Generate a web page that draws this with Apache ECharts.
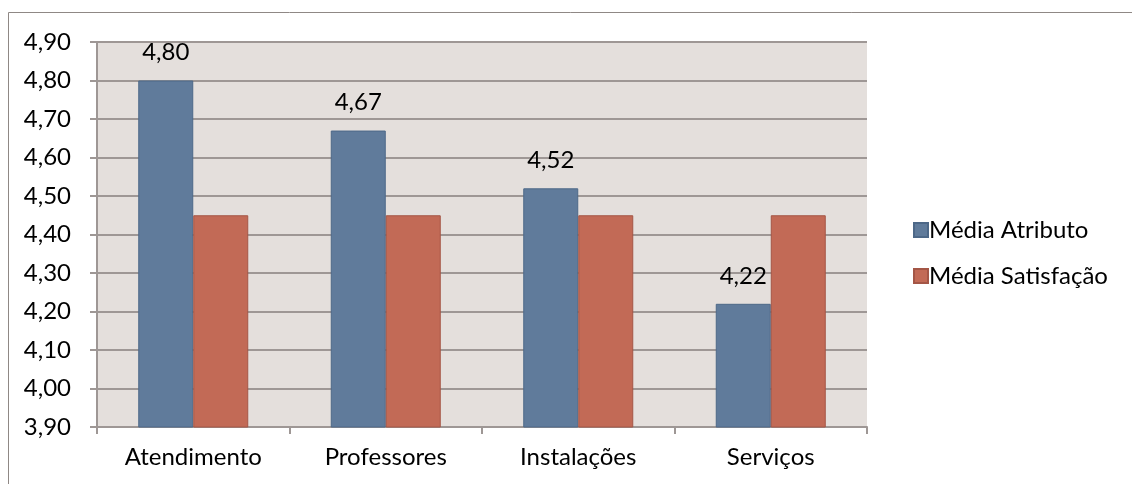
<!DOCTYPE html>
<html>
<head>
<meta charset="utf-8">
<script src="https://cdn.jsdelivr.net/npm/echarts@6/dist/echarts.min.js"></script>
<style>
html,body{margin:0;padding:0;background:#fff;}
#chart{width:1132px;height:484px;}
</style>
</head>
<body>
<div id="chart"></div>
<script>
var categories = ['Atendimento', 'Professores', 'Instalações', 'Serviços'];
var mediaAtributo = [4.80, 4.67, 4.52, 4.22];
var mediaSatisfacao = [4.45, 4.45, 4.45, 4.45];
var seriesNames = ['Média Atributo', 'Média Satisfação'];

function fmt(v){
    return Number(v).toFixed(2).replace('.', ',');
}

var myChart = echarts.init(document.getElementById('chart'));
var font = 'Lato, "Open Sans", sans-serif';
var option = {
    animation: false,
    textStyle: {fontFamily: font},
    graphic: [{
        type: 'rect',
        shape: {x: 8.5, y: 12.5, width: 1140, height: 490},
        style: {fill: 'none', stroke: '#8f8885', lineWidth: 1}
    }],
    legend: {
        orient: 'vertical',
        left: 908,
        top: 213,
        itemWidth: 14,
        itemHeight: 14,
        itemGap: 22,
        icon: 'rect',
        textStyle: {fontSize: 24, color: '#000', fontFamily: font, padding: [0, 0, 0, -4]},
        data: seriesNames
    },
    grid: {left: 97, right: 265, top: 42, bottom: 57, show: true,
           backgroundColor: '#e4dfdc', borderWidth: 0},
    xAxis: {
        type: 'category',
        data: categories,
        axisLine: {lineStyle: {color: '#9e9795', width: 2}},
        axisTick: {show: true, length: 7, lineStyle: {color: '#9e9795', width: 2}},
        axisLabel: {fontSize: 24, color: '#000', margin: 18, fontFamily: font}
    },
    yAxis: {
        type: 'value',
        min: 3.9,
        max: 4.9,
        interval: 0.1,
        axisLine: {show: true, lineStyle: {color: '#9e9795', width: 2}},
        axisTick: {show: true, length: 7, lineStyle: {color: '#9e9795', width: 2}},
        splitLine: {lineStyle: {color: '#9e9795', width: 2}},
        axisLabel: {fontSize: 24, color: '#000', margin: 26, fontFamily: font, formatter: fmt}
    },
    series: [
        {
            name: seriesNames[0],
            type: 'bar',
            data: mediaAtributo,
            barWidth: 55,
            barGap: '0%',
            itemStyle: {color: '#607b9b', borderColor: '#4d6888', borderWidth: 1},
            label: {show: true, position: 'top', distance: 16, fontSize: 24, color: '#000',
                    fontFamily: font, formatter: function(p){ return fmt(p.value); }}
        },
        {
            name: seriesNames[1],
            type: 'bar',
            data: mediaSatisfacao,
            barWidth: 55,
            barGap: '0%',
            itemStyle: {color: '#c26a56', borderColor: '#a45646', borderWidth: 1}
        }
    ]
};
myChart.setOption(option);
</script>
</body>
</html>
